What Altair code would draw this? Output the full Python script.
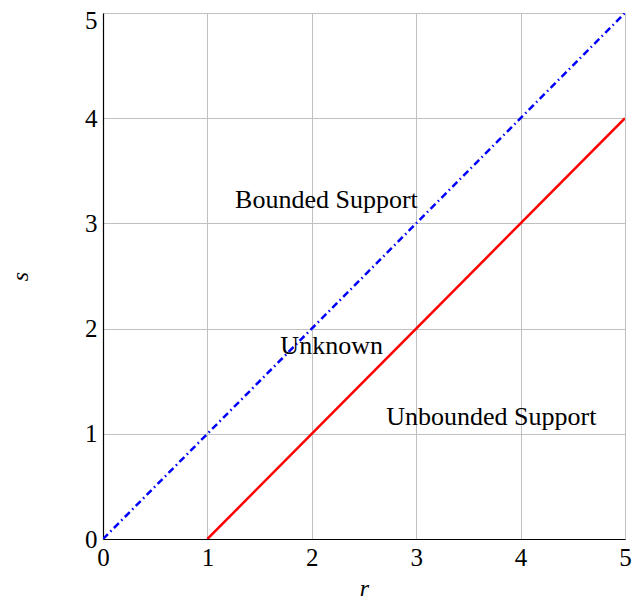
import altair as alt
import pandas as pd

blue_r = [0, 5]
blue_s = [0, 5]
red_r = [1, 5]
red_s = [0, 4]

label_text = ["Bounded Support", "Unknown", "Unbounded Support"]
label_r = [2.14, 2.19, 3.72]
label_s = [3.22, 1.83, 1.16]

blue = pd.DataFrame({"r": blue_r, "s": blue_s})
red = pd.DataFrame({"r": red_r, "s": red_s})
labels = pd.DataFrame({"r": label_r, "s": label_s, "t": label_text})

xs = alt.Scale(domain=[0, 5], nice=False, zero=False)
ys = alt.Scale(domain=[0, 5], nice=False, zero=False)

font = "Liberation Serif"

xax = alt.Axis(values=[0, 1, 2, 3, 4, 5], format="d", title="r", titleFont=font, titleFontStyle="italic",
               titleFontWeight="normal", titleFontSize=24, titlePadding=6,
               labelFont=font, labelFontSize=25, labelColor="black", labelPadding=6,
               tickSize=0, domainColor="black", domainWidth=1.2, gridColor="#c0c0c0",
               labelFlush=False, labelOverlap=False)
yax = alt.Axis(values=[0, 1, 2, 3, 4, 5], format="d", title="s", titleFont=font, titleFontStyle="italic",
               titleFontWeight="normal", titleFontSize=24, titlePadding=52,
               labelFont=font, labelFontSize=25, labelColor="black", labelPadding=6,
               labelOffset={"condition": {"test": "datum.value == 5", "value": 7}, "value": 0},
               tickSize=0, domainColor="black", domainWidth=1.2, gridColor="#c0c0c0",
               labelFlush=False, labelOverlap=False)

base_blue = alt.Chart(blue).mark_line(color="#0000ff", strokeWidth=2.5,
                                       strokeDash=[7, 3.5, 1.5, 3.5], clip=True).encode(
    x=alt.X("r:Q", scale=xs, axis=xax),
    y=alt.Y("s:Q", scale=ys, axis=yax),
)
base_red = alt.Chart(red).mark_line(color="#ff0000", strokeWidth=2.5, clip=True).encode(
    x=alt.X("r:Q", scale=xs),
    y=alt.Y("s:Q", scale=ys),
)
txt = alt.Chart(labels).mark_text(font=font, fontSize=26, color="black",
                                  align="center", baseline="middle").encode(
    x=alt.X("r:Q", scale=xs),
    y=alt.Y("s:Q", scale=ys),
    text="t:N",
)

chart = alt.layer(base_blue, base_red, txt).properties(
    width=522, height=526,
    autosize=alt.AutoSizeParams(type="none"),
    padding={"left": 95, "top": 5, "right": 7, "bottom": 64},
).configure_view(stroke="#333333", strokeWidth=1.2).configure(background="white")

chart.save("out.html", embed_options={"renderer": "svg", "actions": False})
